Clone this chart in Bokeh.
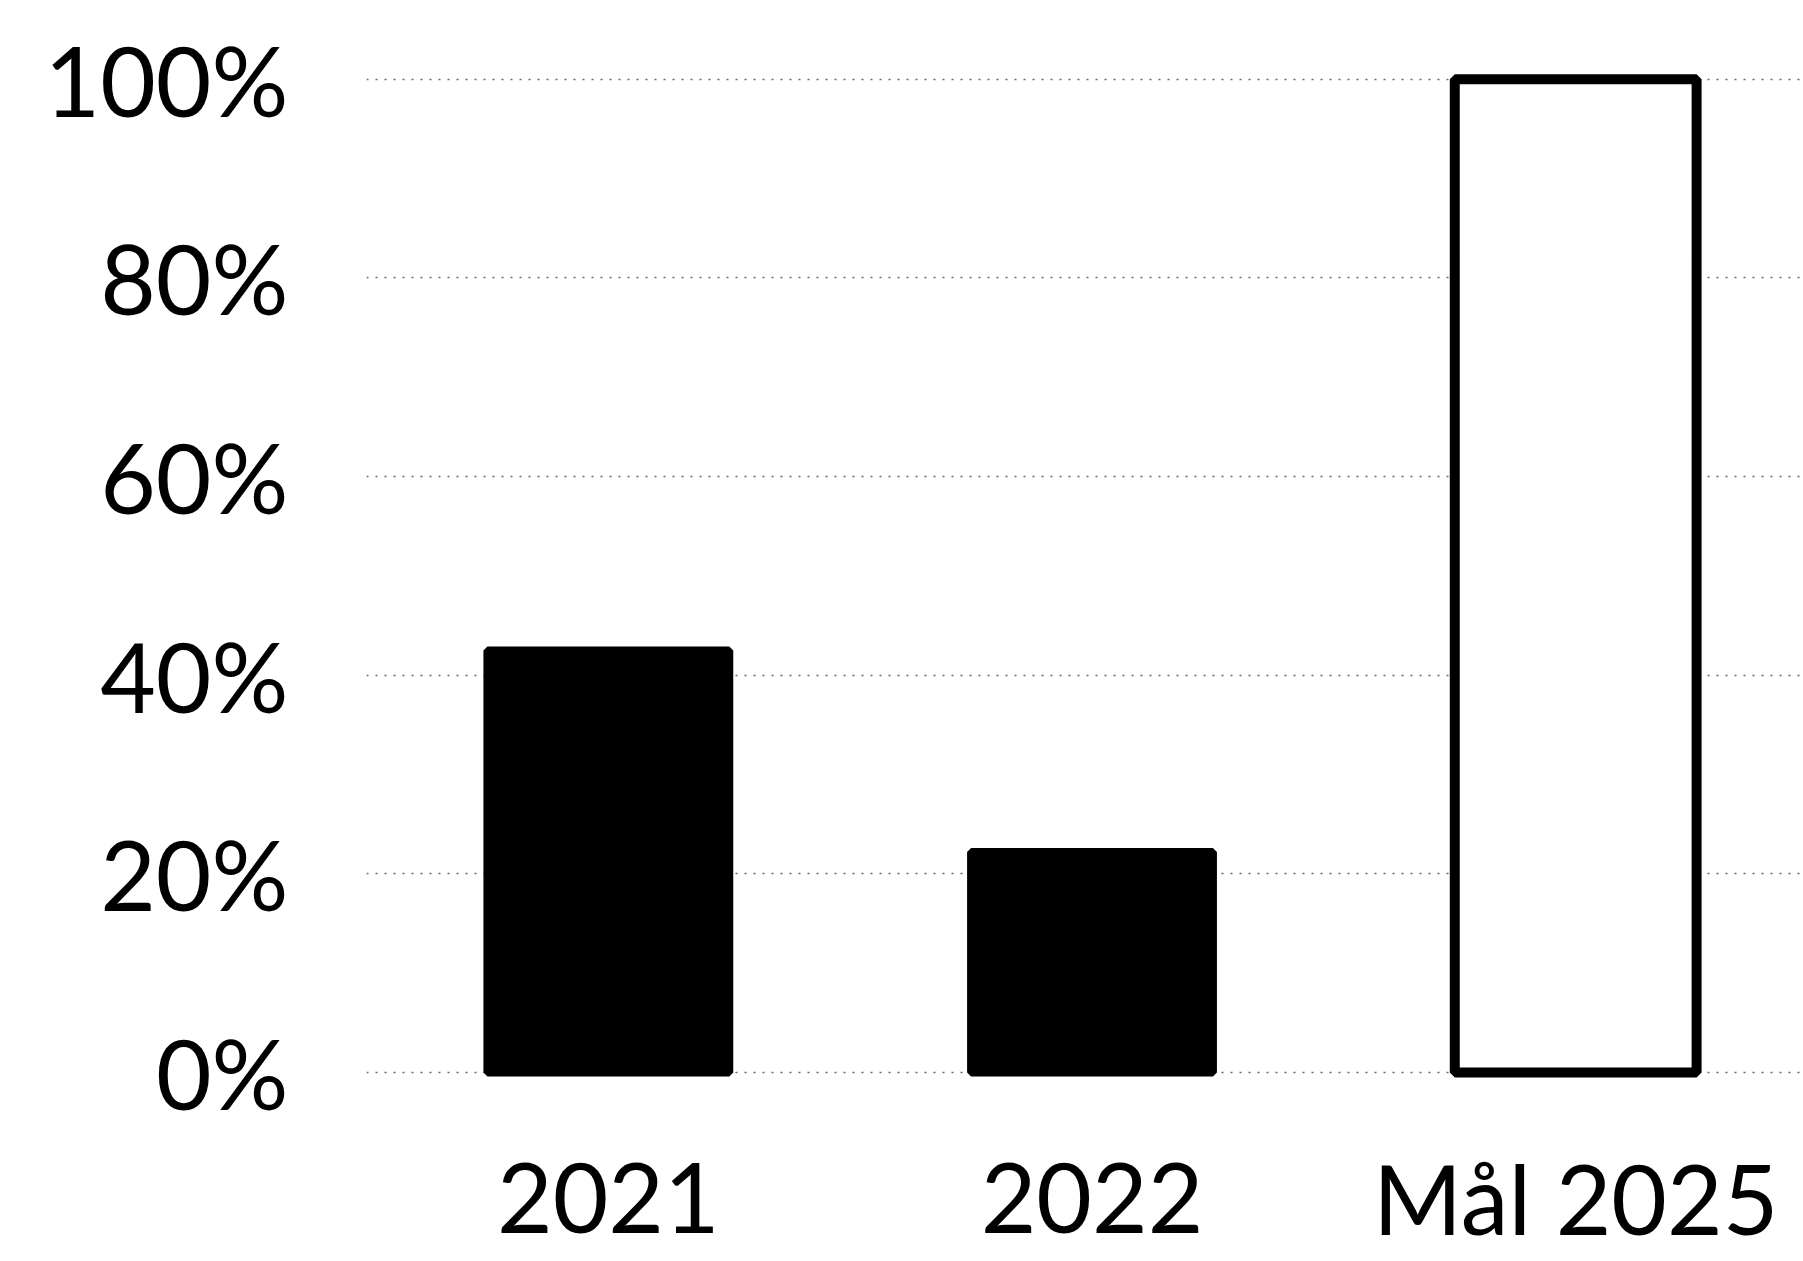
from bokeh.plotting import figure
from bokeh.models import FixedTicker, Range1d, ColumnDataSource
from bokeh.core.properties import value
from bokeh.embed import file_html
from bokeh.resources import INLINE

# Data
categories = ["2021", "2022", "Mål 2025"]
values = [0.425, 0.222, 1.0]
fills = ["black", "black", "white"]
outline_widths = [8, 8, 10]
y_ticks = [0.0, 0.2, 0.4, 0.6, 0.8, 1.0]
y_tick_labels = ["0%", "20%", "40%", "60%", "80%", "100%"]

xs = [i + 0.5 for i in range(len(categories))]

W, H = 1803, 1261
p = figure(width=W, height=H, output_backend="svg", toolbar_location=None,
           x_range=Range1d(0, 2.971), y_range=Range1d(-0.1903, 1.03),
           x_axis_location=None,
           min_border_left=366, min_border_right=0, min_border_top=49, min_border_bottom=0)
p.outline_line_color = None
p.background_fill_color = "white"

src = ColumnDataSource(dict(x=xs, top=values, fill=fills, lw=outline_widths, name=categories))
p.vbar(x="x", top="top", bottom=0, width=0.5, source=src, fill_color="fill",
       line_color="black", line_width="lw")

# category labels below the bars
p.text(x="x", y=-0.126, text="name", source=src, text_font=value("Lato"),
       text_font_size="96px", text_color="black", text_align="center",
       text_baseline="middle")

p.yaxis.ticker = FixedTicker(ticks=y_ticks)
p.yaxis.major_label_overrides = {t: l for t, l in zip(y_ticks, y_tick_labels)}
ax = p.yaxis[0]
ax.axis_line_color = None
ax.major_tick_line_color = None
ax.minor_tick_line_color = None
ax.major_label_text_font = "Lato"
ax.major_label_text_font_size = "96px"
ax.major_label_text_color = "black"
ax.major_label_standoff = 72

p.xgrid.grid_line_color = None
p.ygrid.ticker = FixedTicker(ticks=y_ticks)
p.ygrid.grid_line_color = "#666666"
p.ygrid.grid_line_width = 1.5
p.ygrid.grid_line_dash = "2 7"

open("out.html", "w").write(file_html(p, INLINE))
